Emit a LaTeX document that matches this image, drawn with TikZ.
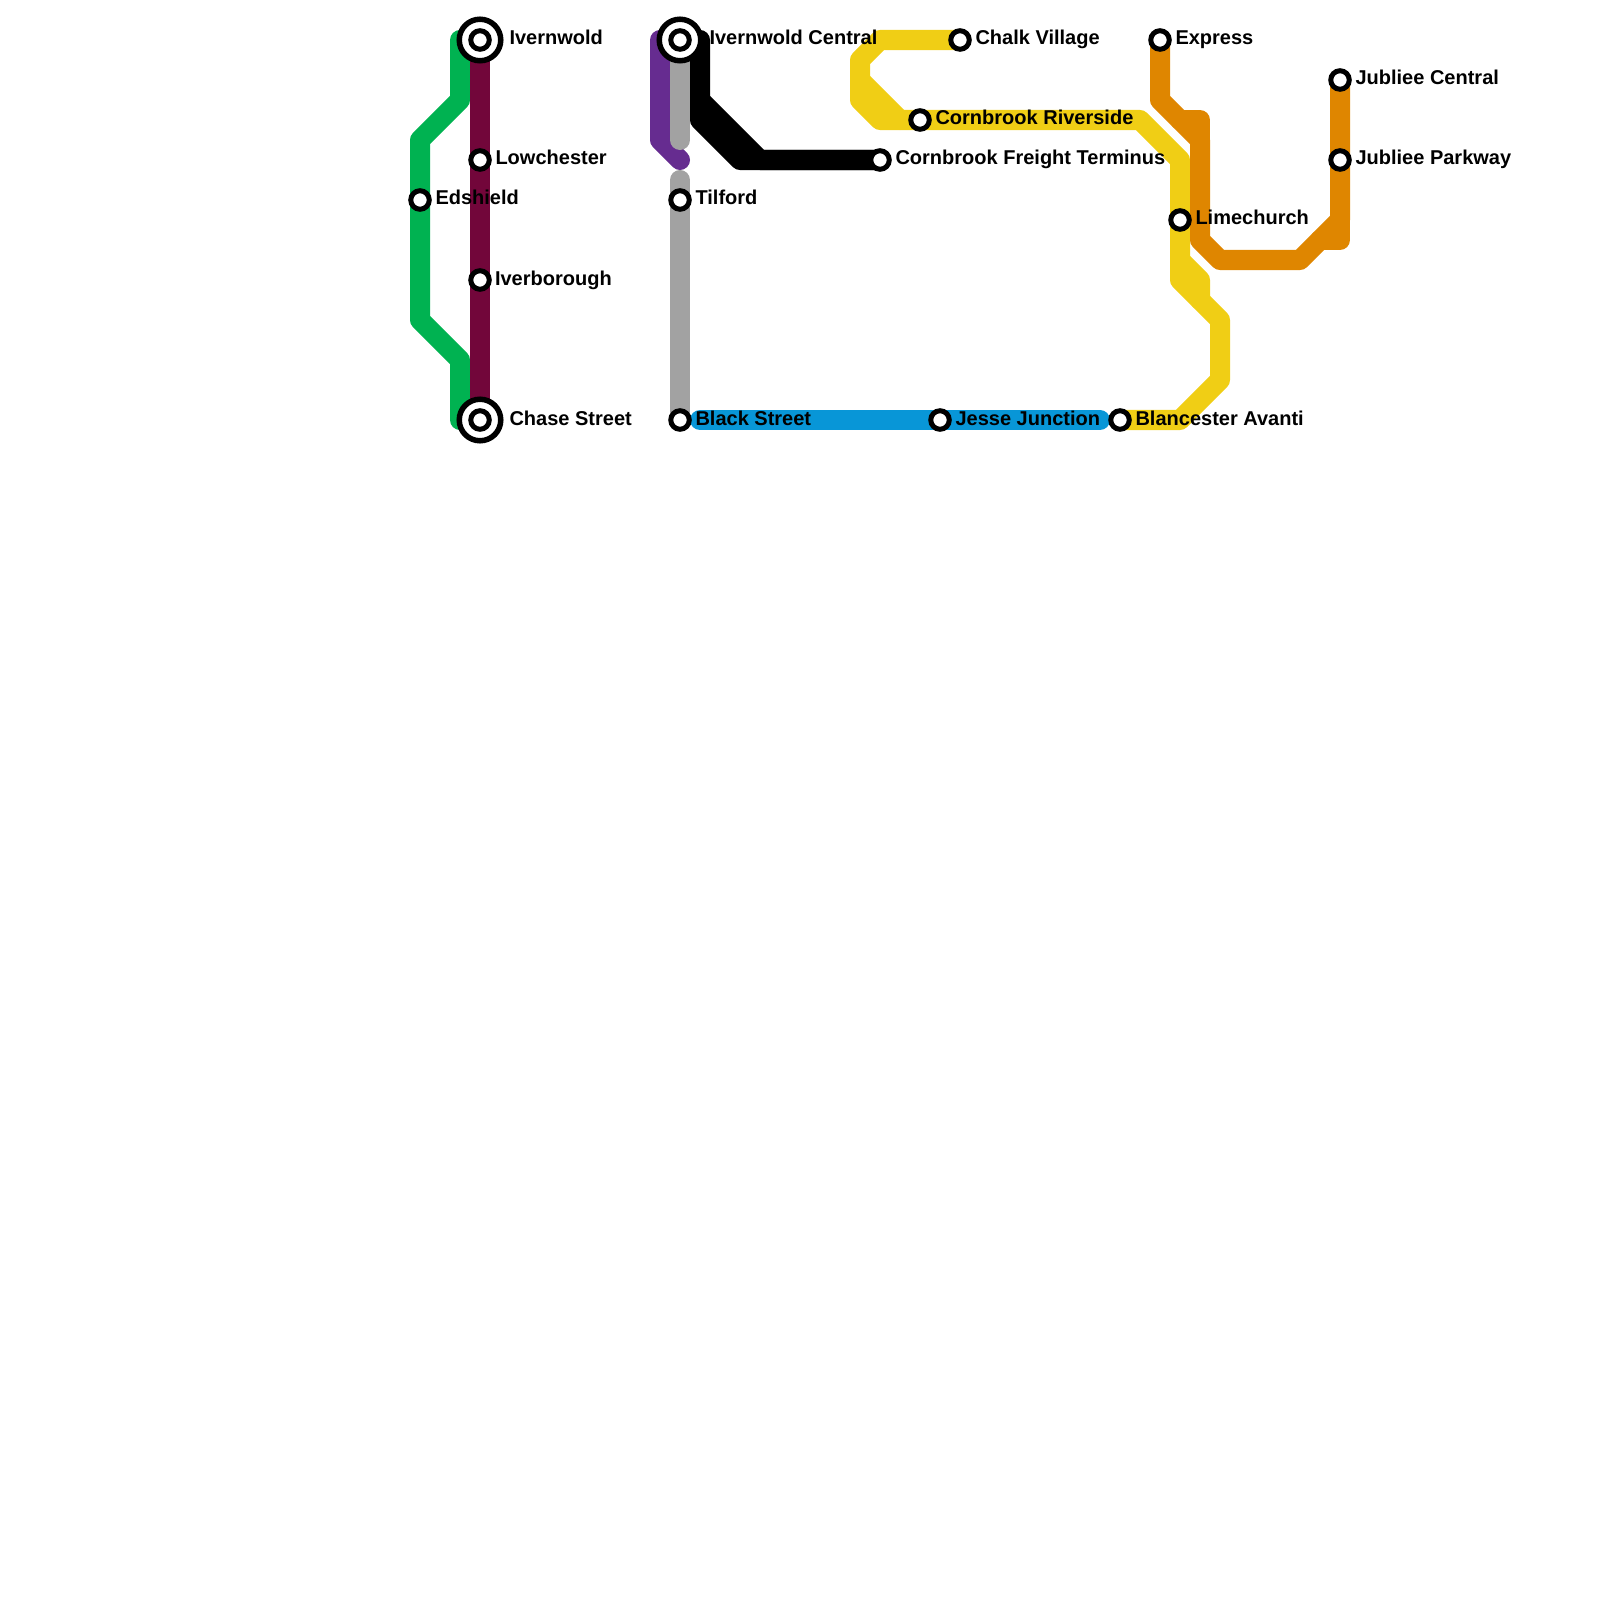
\documentclass[tikz,border=0pt]{standalone}
\usepackage{fontspec}
\setmainfont{Liberation Sans}
\usetikzlibrary{backgrounds}
\definecolor{cgreen}{HTML}{00B251}
\definecolor{cmaroon}{HTML}{72063A}
\definecolor{cpurple}{HTML}{662C90}
\definecolor{cgray}{HTML}{A2A2A2}
\definecolor{cyellow}{HTML}{F0CE15}
\definecolor{corange}{HTML}{DF8600}
\definecolor{cblue}{HTML}{0896D7}
\tikzset{
  rail/.style={line width=0.2cm,line cap=round,line join=round},
  stn/.style={circle,draw=black,fill=white,line width=0.05cm,minimum size=0.185cm,inner sep=0pt,outer sep=0pt},
  hub/.style={circle,draw=black,fill=white,line width=0.055cm,minimum size=0.415cm,inner sep=0pt,outer sep=0pt},
  lbl/.style={anchor=base west,inner sep=0pt,outer sep=0pt,font=\fontsize{5.69pt}{6.5pt}\selectfont\bfseries,text=black}
}
\begin{document}
\begin{tikzpicture}[x=0.01cm,y=-0.01cm]
\useasboundingbox (0,0) rectangle (1600,1600);
% stations
\node[hub] (ivernwoldH) at (480,40) {};
\node[stn] (ivernwold) at (480,40) {};
\node[stn] (lowchester) at (480,160) {};
\node[stn] (edshield) at (420,200) {};
\node[stn] (iverborough) at (480,280) {};
\node[hub] (chaseH) at (480,420) {};
\node[stn] (chase) at (480,420) {};
\node[hub] (centralH) at (680,40) {};
\node[stn] (central) at (680,40) {};
\node[stn] (tilford) at (680,200) {};
\node[stn] (black) at (680,420) {};
\node[stn] (jesse) at (940,420) {};
\node[stn] (blancester) at (1120,420) {};
\node[stn] (chalk) at (960,40) {};
\node[stn] (riverside) at (920,120) {};
\node[stn] (freight) at (880,160) {};
\node[stn] (express) at (1160,40) {};
\node[stn] (limechurch) at (1180,220) {};
\node[stn] (jubcentral) at (1340,80) {};
\node[stn] (jubparkway) at (1340,160) {};
% labels
\node[lbl] (l1) at (509.5,45) {Ivernwold};
\node[lbl] (l2) at (495.5,165) {Lowchester};
\node[lbl] (l3) at (435.5,205) {Edshield};
\node[lbl] (l4) at (495,285) {Iverborough};
\node[lbl] (l5) at (509.5,425) {Chase Street};
\node[lbl] (l6) at (709.5,45) {Ivernwold Central};
\node[lbl] (l7) at (695.5,205) {Tilford};
\node[lbl] (l8) at (695.5,425) {Black Street};
\node[lbl] (l9) at (955.5,425) {Jesse Junction};
\node[lbl] (l10) at (1135.5,425) {Blancester Avanti};
\node[lbl] (l11) at (975.5,45) {Chalk Village};
\node[lbl] (l12) at (935.5,125) {Cornbrook Riverside};
\node[lbl] (l13) at (895.5,165) {Cornbrook Freight Terminus};
\node[lbl] (l14) at (1175.5,45) {Express};
\node[lbl] (l15) at (1195.5,225) {Limechurch};
\node[lbl] (l16) at (1355.5,85) {Jubliee Central};
\node[lbl] (l17) at (1355.5,165) {Jubliee Parkway};
% free ends
\coordinate (gstart) at (460,40);
\coordinate (gend) at (460,420);
\coordinate (pstart) at (660,40);
\coordinate (pend) at (680,160);
\coordinate (bstart) at (700,40);
\coordinate (bfork) at (700,100);
\coordinate (gaend) at (680,140);
\coordinate (gbstart) at (680,180);
\coordinate (bluestart) at (700,420);
\coordinate (blueend) at (1100,420);
\coordinate (ysplit) at (860,80);
\coordinate (ymerge) at (900,120);
\coordinate (ysplitb) at (1180,260);
\coordinate (yendb) at (1200,300);
\coordinate (ojoin) at (1180,120);
\coordinate (ojoinb) at (1200,140);
\coordinate (oforkb) at (1340,220);
\coordinate (oendb) at (1320,240);
\begin{scope}[on background layer]
\draw[rail,cgreen] (gstart) -- (460,100) -- (420,140) -- (edshield.center) -- (420,320) -- (460,360) -- (gend);
\draw[rail,cmaroon,line cap=butt] (ivernwold.center) -- (lowchester.center) -- (iverborough.center) -- (chase.center);
\draw[rail,cpurple] (pstart) -- (660,140) -- (pend);
\draw[rail,black] (bstart) -- (700,120) -- (740,160) -- (freight.center);
\draw[rail,black] (bfork) -- (760,160) -- (freight.center);
\draw[rail,cgray] (central.center) -- (gaend);
\draw[rail,cgray] (gbstart) -- (tilford.center) -- (black.center);
\draw[rail,cblue] (bluestart) -- (jesse.center) -- (blueend);
\draw[rail,cyellow] (chalk.center) -- (880,40) -- (860,60) -- (860,100) -- (880,120) -- (riverside.center) -- (1140,120) -- (1180,160) -- (limechurch.center) -- (1180,280) -- (1220,320) -- (1220,380) -- (1180,420) -- (blancester.center);
\draw[rail,cyellow] (ysplit) -- (ymerge);
\draw[rail,cyellow] (ysplitb) -- (1200,280) -- (yendb);
\draw[rail,corange] (express.center) -- (1160,100) -- (ojoinb) -- (1200,240) -- (1220,260) -- (1300,260) -- (oforkb) -- (jubparkway.center) -- (jubcentral.center);
\draw[rail,corange] (ojoin) -- (1200,120) -- (ojoinb);
\draw[rail,corange] (oforkb) -- (1340,240) -- (oendb);
\end{scope}
\end{tikzpicture}
\end{document}
